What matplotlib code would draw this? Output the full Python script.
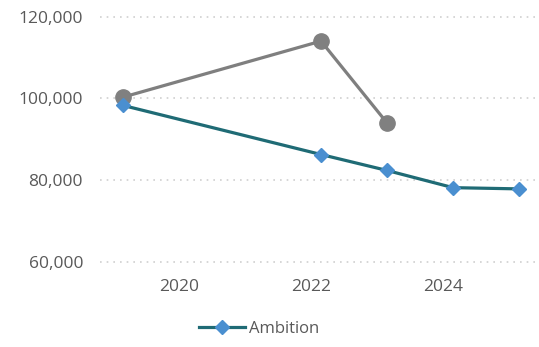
import matplotlib
matplotlib.use("Agg")
import matplotlib.pyplot as plt
from matplotlib.ticker import FuncFormatter

plt.rcParams['font.family'] = ['Open Sans', 'DejaVu Sans']

actual_years = [2019, 2022, 2023]
actual_values = [100300, 114000, 94000]

ambition_years = [2019, 2022, 2023, 2024, 2025]
ambition_values = [98300, 86300, 82400, 78200, 77900]

tick_labels = ["2020", "2022", "2024"]
tick_years = [2020, 2022, 2024]
yticks = [60000, 80000, 100000, 120000]

fig = plt.figure(figsize=(5.39, 3.47), dpi=100)
ax = fig.add_axes([0.185, 0.215, 0.815, 0.755])

ax.plot(actual_years, actual_values, color='#7f7f7f', lw=2.3, marker='o',
        markersize=11, markerfacecolor='#808080', markeredgecolor='#808080', zorder=3)
ax.plot(ambition_years, ambition_values, color='#1f6b75', lw=2.3, marker='D',
        markersize=7.5, markerfacecolor='#4a8fd0', markeredgecolor='#4a8fd0',
        label='Ambition', zorder=4)

ax.set_ylim(57500, 121500)
ax.set_xlim(2018.65, 2025.3)
ax.set_yticks(yticks)
ax.yaxis.set_major_formatter(FuncFormatter(lambda v, p: f"{int(v):,}"))
ax.set_xticks([t - 0.15 for t in tick_years])
ax.set_xticklabels(tick_labels)
ax.grid(axis='y', color='#d0d0d0', linestyle=(0, (1, 3)), lw=1.2)
for s in ax.spines.values():
    s.set_visible(False)
ax.tick_params(length=0, labelsize=12.5, colors='#595959', pad=5)
ax.tick_params(axis='y', pad=12)

leg = fig.legend(loc='lower center', bbox_to_anchor=(0.48, -0.015), frameon=False,
                 fontsize=12, labelcolor='#595959', handlelength=2.8, handletextpad=0.2)

fig.savefig("out.png", dpi=100)
